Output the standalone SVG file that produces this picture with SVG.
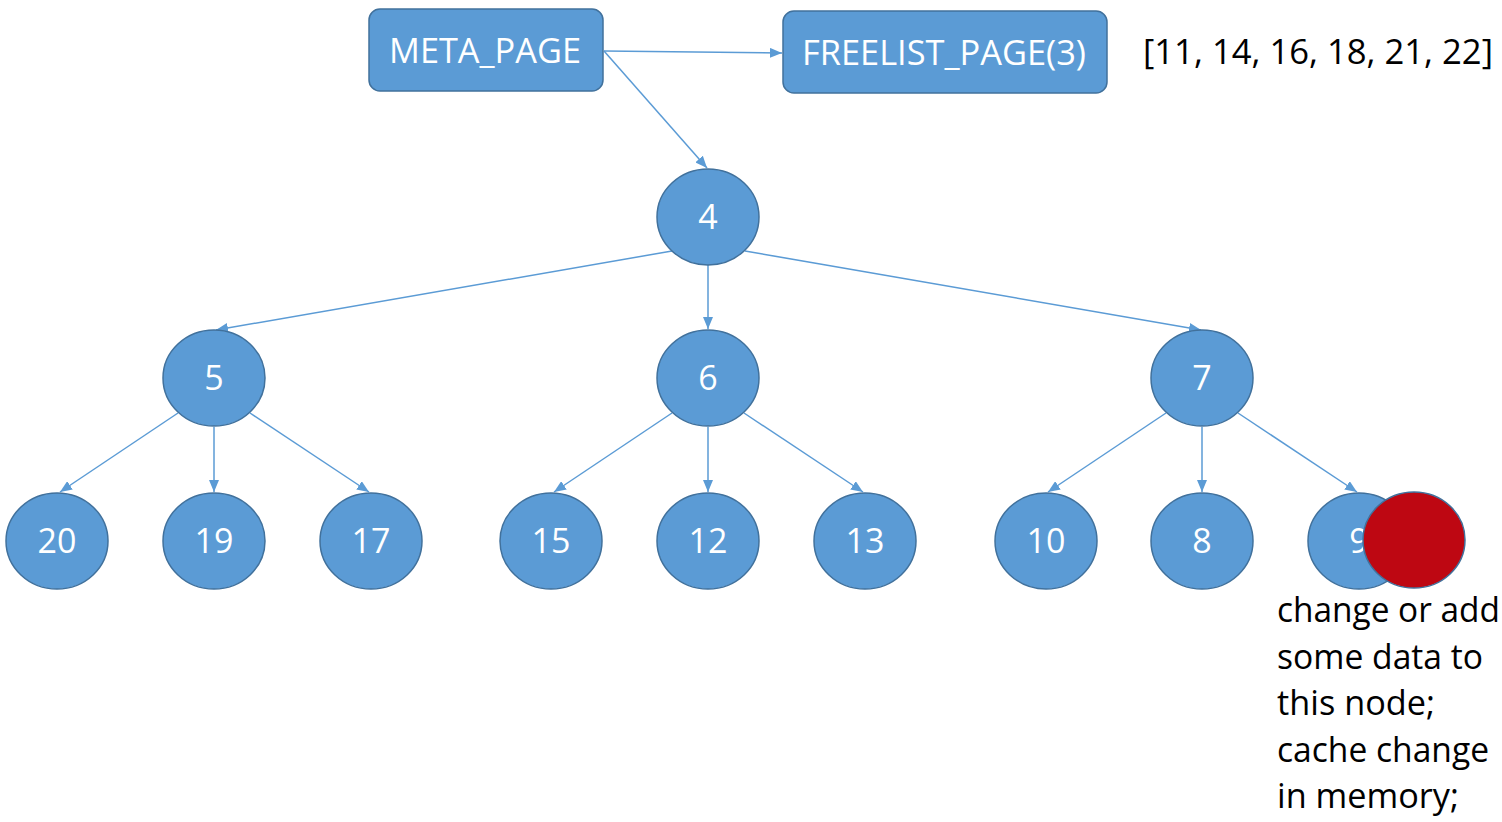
<svg xmlns="http://www.w3.org/2000/svg" width="1502" height="822" viewBox="0 0 1502 822">
<defs>
<marker id="ah" viewBox="0 0 12 10" refX="12" refY="5" markerWidth="12" markerHeight="10" markerUnits="userSpaceOnUse" orient="auto">
<path d="M0,0 L12,5 L0,10 z" fill="#5B9BD5"/>
</marker>
</defs>
<style>
.box{fill:#5B9BD5;stroke:#41719C;stroke-width:1.5}
.nd{fill:#5B9BD5;stroke:#41719C;stroke-width:1.5}
.lb{fill:#fff;font-family:"Open Sans","Noto Sans",sans-serif;font-size:34px;text-anchor:middle}
.bl{fill:#fff;font-family:"Open Sans","Noto Sans",sans-serif;font-size:35px}
.tx{fill:#000;font-family:"Open Sans","Noto Sans",sans-serif;font-size:34px}
.cn{stroke:#5B9BD5;stroke-width:1.5;fill:none;marker-end:url(#ah)}
</style>
<rect width="1502" height="822" fill="#fff"/>
<g id="connectors">
<line class="cn" x1="604" y1="51" x2="782" y2="53"/>
<line class="cn" x1="604" y1="51" x2="707" y2="168"/>
<line class="cn" x1="672" y1="251" x2="216" y2="330"/>
<line class="cn" x1="708" y1="265" x2="708" y2="329"/>
<line class="cn" x1="745" y1="251" x2="1201" y2="330"/>
<line class="cn" x1="178" y1="413" x2="60" y2="492"/>
<line class="cn" x1="214" y1="427" x2="214" y2="492"/>
<line class="cn" x1="250" y1="413" x2="369" y2="492"/>
<line class="cn" x1="672" y1="413" x2="554" y2="492"/>
<line class="cn" x1="708" y1="427" x2="708" y2="492"/>
<line class="cn" x1="744" y1="413" x2="863" y2="492"/>
<line class="cn" x1="1166" y1="413" x2="1048" y2="492"/>
<line class="cn" x1="1202" y1="427" x2="1202" y2="492"/>
<line class="cn" x1="1238" y1="413" x2="1357" y2="492"/>
</g>
<g id="meta_page"><rect class="box" x="369" y="9" width="234" height="82" rx="11"/><text class="bl" x="389" y="63" textLength="192" lengthAdjust="spacingAndGlyphs">META_PAGE</text></g>
<g id="freelist_page"><rect class="box" x="783" y="11" width="324" height="82" rx="11"/><text class="bl" x="802" y="65" textLength="284" lengthAdjust="spacingAndGlyphs">FREELIST_PAGE(3)</text></g>
<g id="freelist_ids"><text class="tx" x="1143" y="64" textLength="350" lengthAdjust="spacingAndGlyphs">[11, 14, 16, 18, 21, 22]</text></g>
<g id="n4"><ellipse class="nd" cx="708" cy="217" rx="51" ry="48"/><text class="lb" x="708" y="229">4</text></g>
<g id="n5"><ellipse class="nd" cx="214" cy="378" rx="51" ry="48"/><text class="lb" x="214" y="390">5</text></g>
<g id="n6"><ellipse class="nd" cx="708" cy="378" rx="51" ry="48"/><text class="lb" x="708" y="390">6</text></g>
<g id="n7"><ellipse class="nd" cx="1202" cy="378" rx="51" ry="48"/><text class="lb" x="1202" y="390">7</text></g>
<g id="n20"><ellipse class="nd" cx="57" cy="541" rx="51" ry="48"/><text class="lb" x="57" y="553">20</text></g>
<g id="n19"><ellipse class="nd" cx="214" cy="541" rx="51" ry="48"/><text class="lb" x="214" y="553">19</text></g>
<g id="n17"><ellipse class="nd" cx="371" cy="541" rx="51" ry="48"/><text class="lb" x="371" y="553">17</text></g>
<g id="n15"><ellipse class="nd" cx="551" cy="541" rx="51" ry="48"/><text class="lb" x="551" y="553">15</text></g>
<g id="n12"><ellipse class="nd" cx="708" cy="541" rx="51" ry="48"/><text class="lb" x="708" y="553">12</text></g>
<g id="n13"><ellipse class="nd" cx="865" cy="541" rx="51" ry="48"/><text class="lb" x="865" y="553">13</text></g>
<g id="n10"><ellipse class="nd" cx="1046" cy="541" rx="51" ry="48"/><text class="lb" x="1046" y="553">10</text></g>
<g id="n8"><ellipse class="nd" cx="1202" cy="541" rx="51" ry="48"/><text class="lb" x="1202" y="553">8</text></g>
<g id="n9"><ellipse class="nd" cx="1359" cy="541" rx="51" ry="48"/><text class="lb" x="1359" y="553">9</text></g>
<g id="marker_red"><ellipse cx="1414" cy="540" rx="51" ry="48" fill="#BE0712" stroke="#41719C" stroke-width="1.5"/></g>
<g id="note">
<text class="tx" x="1277" y="622" textLength="223" lengthAdjust="spacingAndGlyphs">change or add</text>
<text class="tx" x="1277" y="669" textLength="206" lengthAdjust="spacingAndGlyphs">some data to</text>
<text class="tx" x="1277" y="715" textLength="158" lengthAdjust="spacingAndGlyphs">this node;</text>
<text class="tx" x="1277" y="762" textLength="212" lengthAdjust="spacingAndGlyphs">cache change</text>
<text class="tx" x="1277" y="808" textLength="182" lengthAdjust="spacingAndGlyphs">in memory;</text>
</g>
</svg>
